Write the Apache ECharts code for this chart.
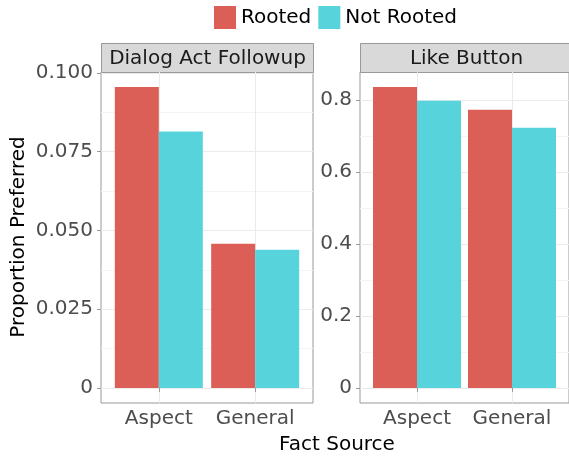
<!DOCTYPE html>
<html>
<head>
<meta charset="utf-8">
<script src="https://cdn.jsdelivr.net/npm/echarts@6/dist/echarts.min.js"></script>
<style>
  html, body { margin: 0; padding: 0; background: #fff; }
  #chart { width: 569px; height: 457px; }
</style>
</head>
<body>
<div id="chart"></div>
<script>
var categories = ['Aspect', 'General'];
var seriesNames = ['Rooted', 'Not Rooted'];
var panels = ['Dialog Act Followup', 'Like Button'];

// values per panel, one array per series
var dialogRooted = [0.0955, 0.0458];
var dialogNotRooted = [0.0814, 0.0439];
var likeRooted = [0.836, 0.773];
var likeNotRooted = [0.798, 0.723];

var dialogTicks = [0, 0.025, 0.05, 0.075, 0.1];
var likeTicks = [0, 0.2, 0.4, 0.6, 0.8];

var colors = ['#db5f57', '#57d3db'];
var font = 'DejaVu Sans';

function minorOf(ticks) {
  var out = [];
  for (var i = 0; i < ticks.length - 1; i++) out.push((ticks[i] + ticks[i + 1]) / 2);
  return out;
}
// ggplot style 5% expansion around the data
function expand(vals) {
  var mx = Math.max.apply(null, vals.concat([0]));
  return [-0.05 * mx, mx * 1.05];
}
function pts(vals) {
  return vals.map(function (v, i) { return [i + 1, v]; });
}

var grids = [
  { left: 101, top: 72, width: 212, height: 331 },
  { left: 360, top: 72, width: 212, height: 331 }
];
var ranges = [
  expand(dialogRooted.concat(dialogNotRooted)),
  expand(likeRooted.concat(likeNotRooted))
];
var ticks = [dialogTicks, likeTicks];
var fmts = [
  function (v) { return v === 0 ? '0' : v.toFixed(3); },
  function (v) { return v === 0 ? '0' : v.toFixed(1); }
];

var xAxes = [], yAxes = [];
[0, 1].forEach(function (g) {
  xAxes.push({
    type: 'value', gridIndex: g, min: 0.4, max: 2.6,
    axisLine: { show: false },
    axisTick: { show: true, length: 4, customValues: [1, 2], lineStyle: { color: '#999' } },
    axisLabel: {
      customValues: [1, 2], margin: 6,
      fontFamily: font, fontSize: 20, color: '#4d4d4d',
      formatter: function (v) { return categories[Math.round(v) - 1]; }
    },
    splitLine: { show: true, lineStyle: { color: '#ebebeb', width: 1 } }
  });
  yAxes.push({
    type: 'value', gridIndex: g, min: ranges[g][0], max: ranges[g][1],
    axisLine: { show: false },
    axisTick: { show: true, length: 4, customValues: ticks[g], lineStyle: { color: '#999' } },
    axisLabel: {
      customValues: ticks[g], margin: 8,
      fontFamily: font, fontSize: 20, color: '#4d4d4d',
      formatter: fmts[g]
    },
    splitLine: { show: true, lineStyle: { color: '#ebebeb', width: 1 } }
  });
});
// minor grid lines
[0, 1].forEach(function (g) {
  yAxes.push({
    type: 'value', gridIndex: g, min: ranges[g][0], max: ranges[g][1],
    axisLine: { show: false },
    axisTick: { show: false, customValues: minorOf(ticks[g]) },
    axisLabel: { show: false },
    splitLine: { show: true, lineStyle: { color: '#f4f4f4', width: 1 } }
  });
});

var chart = echarts.init(document.getElementById('chart'));
chart.setOption({
  animation: false,
  color: colors,
  textStyle: { fontFamily: font },
  legend: {
    data: seriesNames, left: 214, top: 6, padding: 0,
    icon: 'rect', itemWidth: 22, itemHeight: 23, itemGap: 7,
    textStyle: { fontFamily: font, fontSize: 20, color: '#000' }
  },
  grid: grids.map(function (r) {
    return Object.assign({ show: true, borderColor: '#999', borderWidth: 1, backgroundColor: '#fff' }, r);
  }),
  xAxis: xAxes,
  yAxis: yAxes,
  series: [
    { name: 'Rooted', type: 'bar', xAxisIndex: 0, yAxisIndex: 0, data: pts(dialogRooted), barWidth: 44, barGap: '0%' },
    { name: 'Not Rooted', type: 'bar', xAxisIndex: 0, yAxisIndex: 0, data: pts(dialogNotRooted), barWidth: 44, barGap: '0%' },
    { name: 'Rooted', type: 'bar', xAxisIndex: 1, yAxisIndex: 1, data: pts(likeRooted), barWidth: 44, barGap: '0%' },
    { name: 'Not Rooted', type: 'bar', xAxisIndex: 1, yAxisIndex: 1, data: pts(likeNotRooted), barWidth: 44, barGap: '0%' }
  ],
  graphic: [
    {
      type: 'group', left: 101, top: 43,
      children: [
        { type: 'rect', shape: { x: 0, y: 0, width: 212, height: 29 }, style: { fill: '#d9d9d9', stroke: '#999', lineWidth: 1 } },
        { type: 'text', x: 106, y: 15, style: { text: panels[0], fontFamily: font, fontSize: 20, fill: '#1a1a1a', align: 'center', verticalAlign: 'middle' } }
      ]
    },
    {
      type: 'group', left: 360, top: 43,
      children: [
        { type: 'rect', shape: { x: 0, y: 0, width: 212, height: 29 }, style: { fill: '#d9d9d9', stroke: '#999', lineWidth: 1 } },
        { type: 'text', x: 106, y: 15, style: { text: panels[1], fontFamily: font, fontSize: 20, fill: '#1a1a1a', align: 'center', verticalAlign: 'middle' } }
      ]
    },
    { type: 'text', x: 337, y: 445, style: { text: 'Fact Source', fontFamily: font, fontSize: 20, fill: '#000', align: 'center', verticalAlign: 'middle' } },
    { type: 'text', x: 19, y: 237, rotation: Math.PI / 2, style: { text: 'Proportion Preferred', fontFamily: font, fontSize: 20, fill: '#000', align: 'center', verticalAlign: 'middle' } }
  ]
});
</script>
</body>
</html>
